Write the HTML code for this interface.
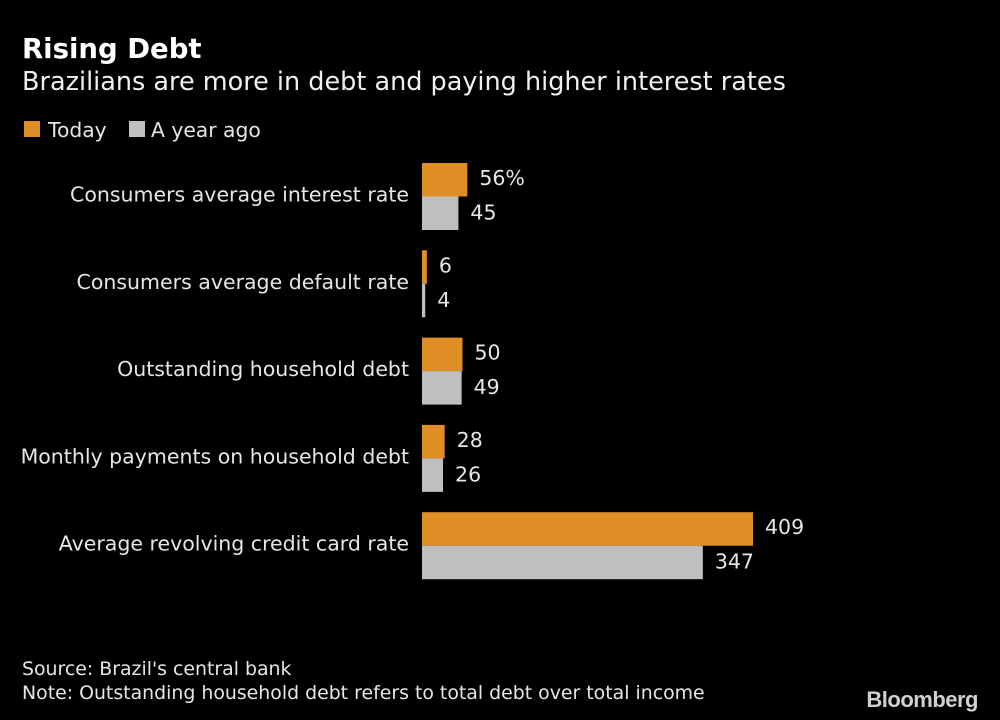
<!DOCTYPE html>
<html><head><meta charset="utf-8"><style>
html,body{margin:0;padding:0;background:#000;width:1000px;height:720px;overflow:hidden}
svg{display:block;font-family:"DejaVu Sans","Liberation Sans",sans-serif}
</style></head><body>
<svg id="chart" width="1000" height="720" viewBox="0 0 1000 720">
<rect width="1000" height="720" fill="#000"/>
<text x="22" y="58" fill="#fff" font-size="27.5" font-weight="bold">Rising Debt</text>
<text x="22" y="90" fill="#f0f0f0" font-size="25.5">Brazilians are more in debt and paying higher interest rates</text>
<g>
<rect x="24" y="121" width="16" height="16" fill="#e08f27"/>
<text x="48" y="137" fill="#e6e6e6" font-size="20.3">Today</text>
<rect x="129" y="121" width="16" height="16" fill="#bfbfbf"/>
<text x="151" y="137" fill="#e6e6e6" font-size="20.3">A year ago</text>
</g>
<g id="bars"></g>
<text x="22" y="675" fill="#e6e6e6" font-size="18.9">Source: Brazil's central bank</text>
<text x="22" y="699" fill="#e6e6e6" font-size="18.9">Note: Outstanding household debt refers to total debt over total income</text>
<text x="978" y="707" text-anchor="end" fill="#d0d0d0" font-size="22" font-weight="bold" font-family="Liberation Sans, sans-serif" letter-spacing="-0.5">Bloomberg</text>
</svg>
<script>
const categories = ["Consumers average interest rate","Consumers average default rate","Outstanding household debt","Monthly payments on household debt","Average revolving credit card rate"];
const todayValues = [56,6,50,28,409];
const yearAgoValues = [45,4,49,26,347];
const todayLabels = ["56%","6","50","28","409"];
const yearAgoLabels = ["45","4","49","26","347"];
const x0 = 422, xScale = v => x0 + v * (331/409);
const yTop = i => 163 + i * 87.3;
const bh = 33.5;
const g = document.getElementById('bars');
const NS = "http://www.w3.org/2000/svg";
function mk(tag, attrs){const e=document.createElementNS(NS,tag);for(const k in attrs)e.setAttribute(k,attrs[k]);return e;}
categories.forEach((c,i)=>{
  const y = yTop(i);
  const lab = mk('text',{x:409,y:y+bh+5,'text-anchor':'end',fill:'#e6e6e6','font-size':20.5});
  lab.textContent=c;
  
  
  g.appendChild(lab);
  const w1 = Math.max(xScale(todayValues[i])-x0,2);
  const r1 = mk('rect',{x:x0,y:y,width:w1,height:bh,fill:'#e08f27'});
  
  
  g.appendChild(r1);
  const w2 = Math.max(xScale(yearAgoValues[i])-x0,2);
  const r2 = mk('rect',{x:x0,y:y+bh,width:w2,height:bh,fill:'#bfbfbf'});
  
  
  g.appendChild(r2);
  const t1 = mk('text',{x:x0+w1+12,y:y+22,fill:'#e6e6e6','font-size':20.5});
  t1.textContent=todayLabels[i];
  
  
  g.appendChild(t1);
  const t2 = mk('text',{x:x0+w2+12,y:y+bh+23,fill:'#e6e6e6','font-size':20.5});
  t2.textContent=yearAgoLabels[i];
  
  
  g.appendChild(t2);
});
</script>
</body></html>
